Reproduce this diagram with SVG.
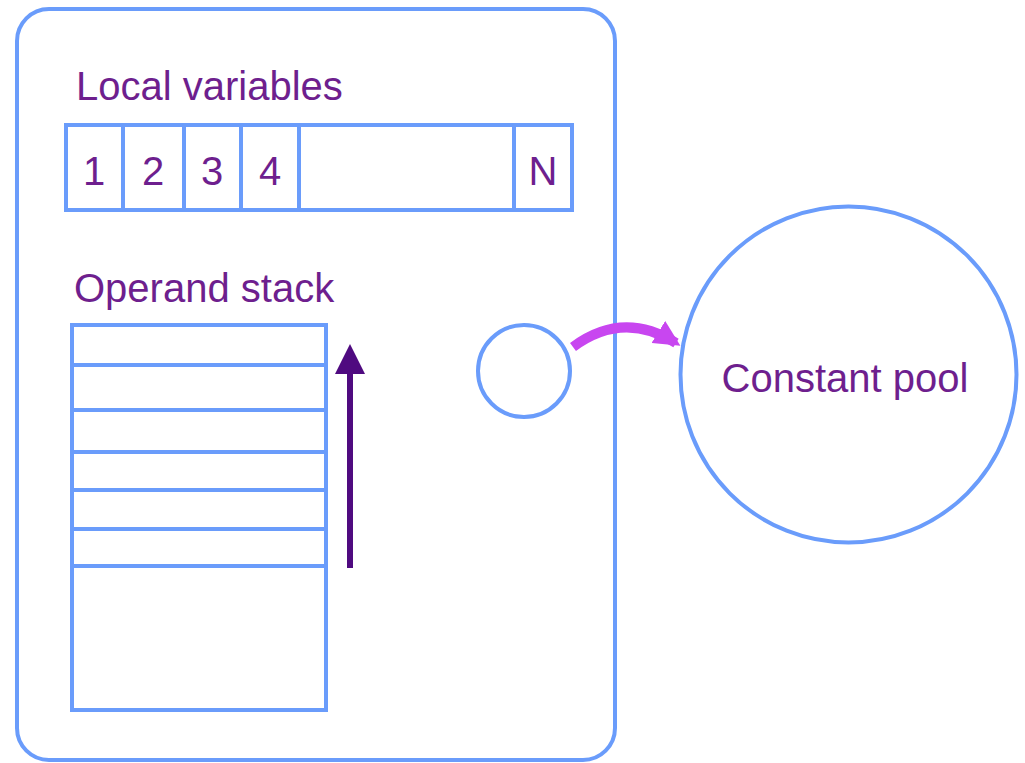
<svg xmlns="http://www.w3.org/2000/svg" width="1025" height="763" viewBox="0 0 1025 763">
<style>
.b{fill:none;stroke:#6a9cfb;stroke-width:4}
.t{font-family:"Liberation Sans",Arial,sans-serif;fill:#6e1f8e;font-size:40px}
.c{text-anchor:middle}
</style>
<defs>
<marker id="ah" viewBox="0 0 10 10" refX="8" refY="5" markerWidth="5" markerHeight="5" orient="auto" markerUnits="strokeWidth"><path d="M0,0 L10,5 L0,10 z" fill="#4f0a80"/></marker>
<marker id="mh" viewBox="0 0 10 10" refX="8" refY="5" markerWidth="2.6" markerHeight="2.6" orient="auto" markerUnits="strokeWidth"><path d="M0,0 L10,5 L0,10 z" fill="#c846f0"/></marker>
</defs>
<rect width="1025" height="763" fill="#ffffff"/>
<g id="frame"><rect class="b" x="17" y="9" width="598" height="751" rx="32"/></g>
<g id="local-variables">
<text class="t" x="76" y="100">Local variables</text>
<rect class="b" x="66" y="125" width="506" height="85"/>
<line class="b" x1="123" y1="125" x2="123" y2="210"/>
<line class="b" x1="184" y1="125" x2="184" y2="210"/>
<line class="b" x1="241" y1="125" x2="241" y2="210"/>
<line class="b" x1="299" y1="125" x2="299" y2="210"/>
<line class="b" x1="514" y1="125" x2="514" y2="210"/>
<text class="t c" x="94" y="185">1</text>
<text class="t c" x="153" y="185">2</text>
<text class="t c" x="212" y="185">3</text>
<text class="t c" x="270" y="185">4</text>
<text class="t c" x="543" y="185">N</text>
</g>
<g id="operand-stack">
<text class="t" x="74" y="302">Operand stack</text>
<rect class="b" x="72" y="325" width="254" height="385"/>
<line class="b" x1="72" y1="365" x2="326" y2="365"/>
<line class="b" x1="72" y1="410" x2="326" y2="410"/>
<line class="b" x1="72" y1="452" x2="326" y2="452"/>
<line class="b" x1="72" y1="490" x2="326" y2="490"/>
<line class="b" x1="72" y1="529" x2="326" y2="529"/>
<line class="b" x1="72" y1="566" x2="326" y2="566"/>
</g>
<g id="ref-circle"><circle class="b" cx="524" cy="371" r="46"/></g>
<g id="constant-pool">
<circle class="b" cx="848.5" cy="374.5" r="168"/>
<text class="t c" x="845" y="392">Constant pool</text>
</g>
<g id="connectors">
<line x1="350" y1="568" x2="350" y2="350" stroke="#4f0a80" stroke-width="6" marker-end="url(#ah)"/>
<path d="M573 347 Q623 310 676 343" fill="none" stroke="#c846f0" stroke-width="10" marker-end="url(#mh)"/>
</g>
</svg>
